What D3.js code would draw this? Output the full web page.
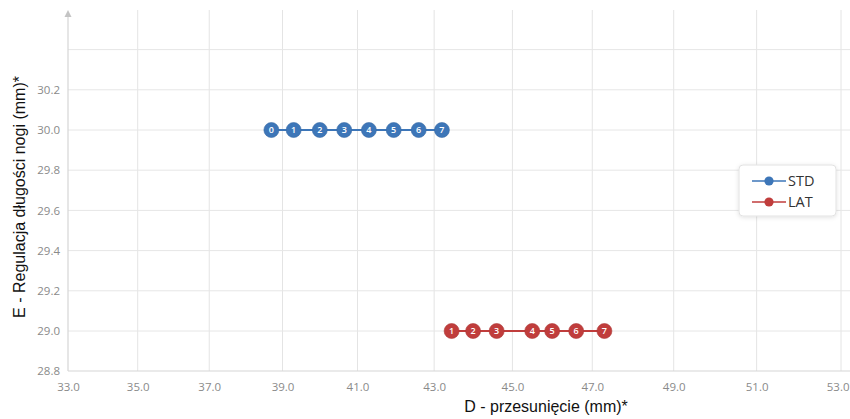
<!DOCTYPE html>
<html>
<head>
<meta charset="utf-8">
<script src="https://cdn.jsdelivr.net/npm/d3@7"></script>
<style>
  html, body { margin: 0; padding: 0; background: #fff; }
  svg { display: block; }
</style>
</head>
<body>
<div id="chart"></div>
<script>
  'use strict';

  // ---- Data ----------------------------------------------------------------
  var xTicks = [33, 35, 37, 39, 41, 43, 45, 47, 49, 51, 53];
  var yTicks = [28.8, 29.0, 29.2, 29.4, 29.6, 29.8, 30.0, 30.2];
  var yGrid = [28.8, 29.0, 29.2, 29.4, 29.6, 29.8, 30.0, 30.2, 30.4];

  var stdLabels = ['0', '1', '2', '3', '4', '5', '6', '7'];
  var stdX = [38.7, 39.3, 40.0, 40.65, 41.3, 41.95, 42.6, 43.2];
  var stdY = [30.0, 30.0, 30.0, 30.0, 30.0, 30.0, 30.0, 30.0];

  var latLabels = ['1', '2', '3', '4', '5', '6', '7'];
  var latX = [43.45, 44.0, 44.6, 45.5, 46.0, 46.6, 47.3];
  var latY = [29.0, 29.0, 29.0, 29.0, 29.0, 29.0, 29.0];

  var seriesNames = ['STD', 'LAT'];
  var seriesColors = ['#3d76b8', '#c03d3c'];

  var xTitle = 'D - przesunięcie (mm)*';
  var yTitle = 'E - Regulacja długości nogi (mm)*';

  // ---- Layout --------------------------------------------------------------
  var W = 850, H = 419;
  var left = 68, right = 841, bottom = 371;

  var svg = d3.select('#chart').append('svg')
    .attr('width', W).attr('height', H);

  // the source picture is slightly stretched towards the right
  var x = d3.scalePow().exponent(1.45).domain([33, 53]).range([left, right]);
  var y = d3.scaleLinear().domain([29.0, 30.0]).range([331, 130]);

  var defs = svg.append('defs');
  var shadow = defs.append('filter').attr('id', 'shadow')
    .attr('x', '-20%').attr('y', '-20%').attr('width', '140%').attr('height', '150%');
  shadow.append('feDropShadow')
    .attr('dx', 0).attr('dy', 1).attr('stdDeviation', 2)
    .attr('flood-color', '#000').attr('flood-opacity', 0.12);

  // ---- Grid ----------------------------------------------------------------
  var grid = svg.append('g').attr('class', 'grid');
  grid.selectAll('line.v').data(xTicks.slice(1)).enter().append('line')
    .attr('class', 'v')
    .attr('x1', function(d) { return x(d); }).attr('x2', function(d) { return x(d); })
    .attr('y1', 10).attr('y2', bottom)
    .attr('stroke', '#e4e4e4').attr('stroke-width', 1);
  grid.selectAll('line.h').data(yGrid.slice(1)).enter().append('line')
    .attr('class', 'h')
    .attr('x1', left).attr('x2', W)
    .attr('y1', function(d) { return y(d); }).attr('y2', function(d) { return y(d); })
    .attr('stroke', '#e6e6e6').attr('stroke-width', 1);

  // axis lines
  svg.append('line')
    .attr('x1', left).attr('x2', W).attr('y1', bottom).attr('y2', bottom)
    .attr('stroke', '#d6d6d6').attr('stroke-width', 1.2);
  svg.append('line')
    .attr('x1', left).attr('x2', left).attr('y1', 14).attr('y2', bottom)
    .attr('stroke', '#d6d6d6').attr('stroke-width', 1.2);
  svg.append('path')
    .attr('d', 'M' + (left - 3.5) + ',17L' + left + ',10L' + (left + 3.5) + ',17Z')
    .attr('fill', '#c4c4c4');

  // ---- Tick labels ---------------------------------------------------------
  var fmt = d3.format('.1f');
  var xAxis = d3.axisBottom(x).tickValues(xTicks).tickFormat(fmt).tickSize(0).tickPadding(12);
  var gx = svg.append('g').attr('transform', 'translate(0,' + bottom + ')').call(xAxis);
  gx.select('.domain').remove();
  gx.selectAll('text')
    .attr('font-family', '"Open Sans", sans-serif').attr('font-size', 11.5)
    .attr('fill', '#8a8a8a');
  // last label sits flush with the right edge
  gx.selectAll('.tick').filter(function(d) { return d === 53; }).select('text')
    .attr('text-anchor', 'end').attr('x', W - 1 - x(53));

  var yAxis = d3.axisLeft(y).tickValues(yTicks).tickFormat(fmt).tickSize(0).tickPadding(8);
  var gy = svg.append('g').attr('transform', 'translate(' + left + ',0)').call(yAxis);
  gy.select('.domain').remove();
  gy.selectAll('text')
    .attr('font-family', '"Open Sans", sans-serif').attr('font-size', 11.5)
    .attr('fill', '#8a8a8a');

  // ---- Titles --------------------------------------------------------------
  svg.append('text')
    .attr('x', 546).attr('y', 412)
    .attr('text-anchor', 'middle')
    .attr('font-family', '"Liberation Sans", Arial, sans-serif')
    .attr('font-size', 16).attr('fill', '#111')
    .text(xTitle);
  svg.append('text')
    .attr('transform', 'translate(25,197) rotate(-90)')
    .attr('text-anchor', 'middle')
    .attr('font-family', '"Liberation Sans", Arial, sans-serif')
    .attr('font-size', 16).attr('fill', '#111')
    .text(yTitle);

  // ---- Series --------------------------------------------------------------
  var series = [
    { name: seriesNames[0], color: seriesColors[0],
      pts: stdX.map(function(v, i) { return { x: v, y: stdY[i], label: stdLabels[i] }; }) },
    { name: seriesNames[1], color: seriesColors[1],
      pts: latX.map(function(v, i) { return { x: v, y: latY[i], label: latLabels[i] }; }) }
  ];

  var line = d3.line()
    .x(function(d) { return x(d.x); })
    .y(function(d) { return y(d.y); });

  series.forEach(function(s) {
    var g = svg.append('g');
    g.append('path')
      .attr('d', line(s.pts))
      .attr('fill', 'none').attr('stroke', s.color).attr('stroke-width', 2);
    var pt = g.selectAll('g.pt').data(s.pts).enter().append('g')
      .attr('class', 'pt')
      .attr('transform', function(d) { return 'translate(' + x(d.x) + ',' + y(d.y) + ')'; });
    pt.append('circle')
      .attr('r', 7.5)
      .attr('fill', s.color)
      .attr('stroke', d3.color(s.color).darker(0.3)).attr('stroke-width', 0.6);
    pt.append('text')
      .attr('text-anchor', 'middle').attr('dy', '0.35em')
      .attr('font-family', '"Open Sans", sans-serif').attr('font-size', 9)
      .attr('font-weight', 600).attr('fill', '#fff')
      .text(function(d) { return d.label; });
  });

  // ---- Legend --------------------------------------------------------------
  var lg = svg.append('g').attr('transform', 'translate(739,165)');
  lg.append('rect')
    .attr('width', 97).attr('height', 51).attr('rx', 4)
    .attr('fill', '#fff').attr('stroke', '#e2e2e2')
    .attr('filter', 'url(#shadow)');
  var item = lg.selectAll('g.item').data(series).enter().append('g')
    .attr('class', 'item')
    .attr('transform', function(d, i) { return 'translate(0,' + (16 + i * 21) + ')'; });
  item.append('line')
    .attr('x1', 13).attr('x2', 47).attr('y1', 0).attr('y2', 0)
    .attr('stroke', function(d) { return d.color; }).attr('stroke-width', 1.6);
  item.append('circle')
    .attr('cx', 30).attr('r', 4.6)
    .attr('fill', function(d) { return d.color; });
  item.append('text')
    .attr('x', 49).attr('dy', '0.35em')
    .attr('font-family', '"Open Sans", sans-serif').attr('font-size', 14.5)
    .attr('fill', '#333')
    .text(function(d) { return d.name; });
</script>
</body>
</html>
